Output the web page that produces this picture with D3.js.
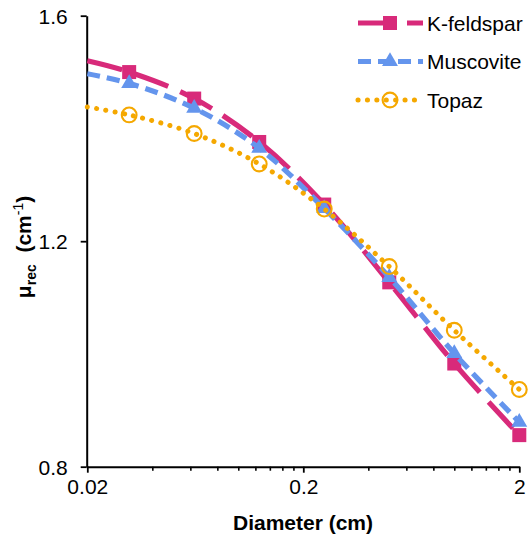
<!DOCTYPE html>
<html>
<head>
<meta charset="utf-8">
<script src="https://cdn.jsdelivr.net/npm/d3@7"></script>
<style>
  html, body { margin: 0; padding: 0; background: #fff; }
  svg { display: block; font-family: "Liberation Sans", Arial, sans-serif; }
</style>
</head>
<body>
<svg id="chart" width="529" height="539"></svg>
<script>
// Measured sample diameters (cm) and reconstructed attenuation coefficients
const diameters = [0.03125, 0.0625, 0.125, 0.25, 0.5, 1, 2];
const kfeldspar = [1.500, 1.453, 1.376, 1.265, 1.127, 0.983, 0.856];
const muscovite = [1.480, 1.436, 1.365, 1.258, 1.136, 1.001, 0.879];
const topaz     = [1.424, 1.391, 1.337, 1.257, 1.155, 1.042, 0.937];
// Curve values at the left edge of the axis (no marker drawn there)
const edgeDiameter = 0.02;
const edgeValues = [1.520, 1.497, 1.438];

const seriesNames = ["K-feldspar", "Muscovite", "Topaz"];
const xMajorTicks = [0.02, 0.2, 2];
const xMinorTicks = [0.04, 0.06, 0.08, 0.1, 0.12, 0.14, 0.16, 0.18,
                     0.4, 0.6, 0.8, 1, 1.2, 1.4, 1.6, 1.8];
const yTicks = [0.8, 1.2, 1.6];

const svg = d3.select("#chart");
const x = d3.scaleLog().domain([0.02, 2]).range([87.3, 519.3]);
const y = d3.scaleLinear().domain([0.8, 1.6]).range([466.7, 15.7]);

const styles = [
  { color: "#D82A7A", dash: "36 13", cap: "butt", width: 5.2, marker: "square" },
  { color: "#6495ED", dash: "13 7", cap: "butt", width: 5.2, marker: "triangle" },
  { color: "#F5A800", dash: "0.1 9.3", cap: "round", width: 5, marker: "circle" }
];
const values = [kfeldspar, muscovite, topaz];

// Axes
const fmt = d => (d === 2 ? "2" : String(d));
const xMinor = svg.append("g").attr("transform", `translate(0,${y(0.8)})`)
  .call(d3.axisBottom(x).tickValues(xMinorTicks).tickSize(4).tickSizeOuter(0).tickFormat(""));
xMinor.select(".domain").remove();
xMinor.selectAll("line").attr("stroke", "#000").attr("stroke-width", 1.6);

const xAxis = svg.append("g").attr("transform", `translate(0,${y(0.8)})`)
  .call(d3.axisBottom(x).tickValues(xMajorTicks).tickSize(6).tickSizeOuter(0).tickPadding(6).tickFormat(fmt));
xAxis.select(".domain").attr("stroke", "#000").attr("stroke-width", 2);
xAxis.selectAll("line").attr("stroke", "#000").attr("stroke-width", 1.8);
xAxis.selectAll("text").attr("font-size", 21).attr("fill", "#000")
  .attr("font-family", "Liberation Sans, Arial, sans-serif");

const yAxis = svg.append("g").attr("transform", `translate(${x(0.02) - 0.6},0)`)
  .call(d3.axisLeft(y).tickValues(yTicks).tickSize(6).tickSizeOuter(0).tickPadding(13).tickFormat(d3.format(".1f")));
yAxis.select(".domain").attr("stroke", "#000").attr("stroke-width", 2);
yAxis.selectAll("line").attr("stroke", "#000").attr("stroke-width", 1.8);
yAxis.selectAll("text").attr("font-size", 21).attr("fill", "#000")
  .attr("font-family", "Liberation Sans, Arial, sans-serif").attr("dy", "0.36em");

// Axis titles
svg.append("text")
  .attr("x", 303).attr("y", 530)
  .attr("text-anchor", "middle").attr("font-size", 21).attr("font-weight", "bold").attr("fill", "#000")
  .text("Diameter (cm)");

const yTitle = svg.append("text")
  .attr("transform", "translate(31,247) rotate(-90)")
  .attr("text-anchor", "middle").attr("font-size", 21).attr("font-weight", "bold").attr("fill", "#000");
yTitle.append("tspan").text("μ");
yTitle.append("tspan").attr("font-size", 14).attr("dy", 5).text("rec");
yTitle.append("tspan").attr("dy", -5).text("\u00a0\u00a0(cm");
yTitle.append("tspan").attr("font-size", 14).attr("dy", -8).attr("font-weight", "normal").text("-1");
yTitle.append("tspan").attr("dy", 8).text(")");

// Series curves and markers
const line = d3.line()
  .x(d => x(d[0])).y(d => y(d[1]))
  .curve(d3.curveCatmullRom.alpha(0.5));

function drawMarker(g, kind, color, cx, cy) {
  if (kind === "square") {
    g.append("rect").attr("x", cx - 7).attr("y", cy - 7).attr("width", 14).attr("height", 14)
      .attr("fill", color);
  } else if (kind === "triangle") {
    g.append("path").attr("d", d3.symbol(d3.symbolTriangle, 110)())
      .attr("transform", `translate(${cx},${cy})`).attr("fill", color);
  } else {
    g.append("circle").attr("cx", cx).attr("cy", cy).attr("r", 7.4)
      .attr("fill", "none").attr("stroke", color).attr("stroke-width", 2.1);
  }
}

values.forEach((vals, i) => {
  const st = styles[i];
  const g = svg.append("g");
  const pts = [[edgeDiameter, edgeValues[i]]].concat(diameters.map((d, j) => [d, vals[j]]));
  g.append("path").attr("d", line(pts))
    .attr("fill", "none").attr("stroke", st.color).attr("stroke-width", st.width)
    .attr("stroke-dasharray", st.dash).attr("stroke-linecap", st.cap);
  diameters.forEach((d, j) => drawMarker(g, st.marker, st.color, x(d), y(vals[j])));
});

// Legend
const legendY = [23, 61.5, 100];
seriesNames.forEach((name, i) => {
  const st = styles[i];
  const g = svg.append("g");
  g.append("line").attr("x1", 358).attr("x2", 423).attr("y1", legendY[i]).attr("y2", legendY[i])
    .attr("stroke", st.color).attr("stroke-width", st.width)
    .attr("stroke-dasharray", st.dash).attr("stroke-linecap", st.cap);
  drawMarker(g, st.marker, st.color, 390, legendY[i]);
  g.append("text").attr("x", 427).attr("y", legendY[i] + 7.6)
    .attr("font-size", 21).attr("fill", "#000").text(name);
});
</script>
</body>
</html>
